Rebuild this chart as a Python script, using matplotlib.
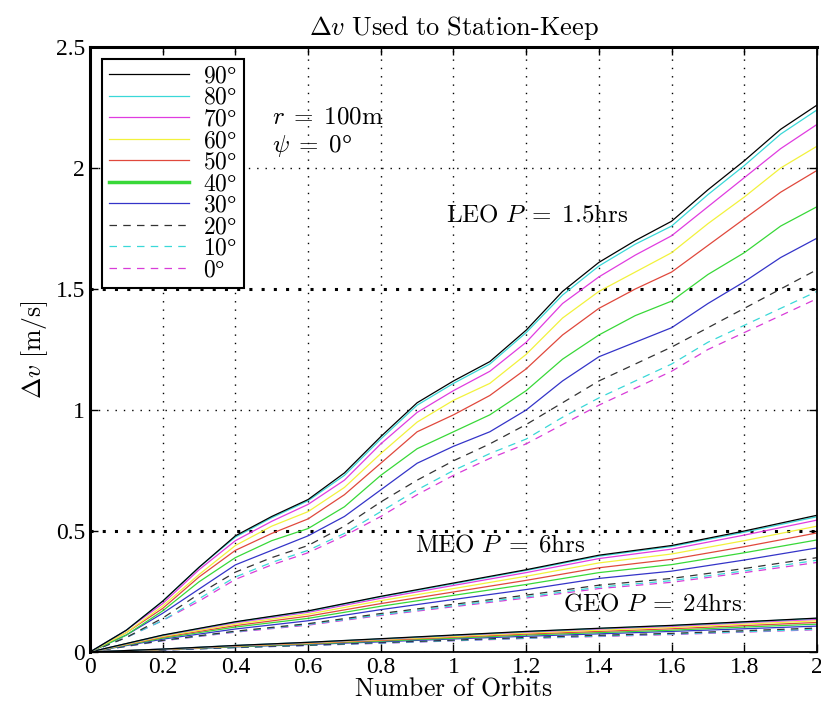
import matplotlib.pyplot as plt
import numpy as np

plt.rcParams['font.family'] = ['Liberation Serif', 'DejaVu Serif']
plt.rcParams['mathtext.fontset'] = 'cm'

angles = ['$90$°', '$80$°', '$70$°', '$60$°', '$50$°',
          '$40$°', '$30$°', '$20$°', '$10$°', '$0$°']
colors = ['#000000', '#3ad8d8', '#e03ce0', '#f2f23c', '#e0483c',
          '#38d838', '#3434c8', '#333333', '#3ad8d8', '#d83cd8']
styles = ['-'] * 7 + [(0, (6, 5))] * 3

# LEO (P = 1.5 hrs), sampled every 0.1 orbit
x_leo = [0.0, 0.1, 0.2, 0.3, 0.4, 0.5, 0.6, 0.7, 0.8, 0.9, 1.0,
         1.1, 1.2, 1.3, 1.4, 1.5, 1.6, 1.7, 1.8, 1.9, 2.0]
leo_90 = [0, 0.09, 0.21, 0.35, 0.48, 0.56, 0.63, 0.74, 0.89, 1.03, 1.12, 1.20, 1.33, 1.49, 1.61, 1.70, 1.78, 1.91, 2.03, 2.16, 2.26]
leo_80 = [0, 0.09, 0.21, 0.35, 0.475, 0.555, 0.625, 0.73, 0.88, 1.02, 1.11, 1.19, 1.32, 1.475, 1.595, 1.685, 1.76, 1.89, 2.01, 2.14, 2.24]
leo_70 = [0, 0.09, 0.20, 0.34, 0.46, 0.54, 0.61, 0.71, 0.86, 0.99, 1.08, 1.16, 1.28, 1.44, 1.55, 1.64, 1.72, 1.84, 1.96, 2.08, 2.18]
leo_60 = [0, 0.08, 0.19, 0.32, 0.44, 0.52, 0.58, 0.68, 0.82, 0.95, 1.04, 1.11, 1.23, 1.38, 1.49, 1.57, 1.65, 1.77, 1.88, 2.00, 2.09]
leo_50 = [0, 0.08, 0.18, 0.31, 0.42, 0.49, 0.55, 0.65, 0.78, 0.91, 0.98, 1.06, 1.17, 1.31, 1.42, 1.50, 1.57, 1.68, 1.79, 1.90, 1.99]
leo_40 = [0, 0.07, 0.17, 0.29, 0.39, 0.46, 0.51, 0.60, 0.73, 0.84, 0.91, 0.98, 1.08, 1.21, 1.31, 1.39, 1.45, 1.56, 1.65, 1.76, 1.84]
leo_30 = [0, 0.07, 0.16, 0.26, 0.36, 0.42, 0.48, 0.56, 0.67, 0.78, 0.85, 0.91, 1.00, 1.12, 1.22, 1.28, 1.34, 1.44, 1.53, 1.63, 1.71]
leo_20 = [0, 0.06, 0.14, 0.24, 0.33, 0.39, 0.44, 0.52, 0.62, 0.71, 0.79, 0.86, 0.94, 1.03, 1.12, 1.19, 1.26, 1.34, 1.42, 1.50, 1.58]
leo_10 = [0, 0.06, 0.13, 0.22, 0.31, 0.37, 0.42, 0.49, 0.58, 0.67, 0.75, 0.82, 0.88, 0.97, 1.05, 1.12, 1.19, 1.28, 1.35, 1.42, 1.49]
leo_0 = [0, 0.06, 0.13, 0.21, 0.30, 0.36, 0.41, 0.48, 0.56, 0.65, 0.73, 0.80, 0.86, 0.94, 1.02, 1.09, 1.16, 1.25, 1.32, 1.39, 1.46]

# MEO (P = 6 hrs) and GEO (P = 24 hrs), sampled every 0.2 orbit
x_slow = [0.0, 0.2, 0.4, 0.6, 0.8, 1.0, 1.2, 1.4, 1.6, 1.8, 2.0]
meo_90 = [0, 0.070, 0.125, 0.170, 0.230, 0.285, 0.340, 0.400, 0.440, 0.500, 0.565]
meo_80 = [0, 0.069, 0.124, 0.168, 0.228, 0.282, 0.337, 0.396, 0.436, 0.495, 0.559]
meo_70 = [0, 0.068, 0.121, 0.164, 0.222, 0.275, 0.328, 0.386, 0.425, 0.483, 0.545]
meo_60 = [0, 0.064, 0.115, 0.156, 0.212, 0.262, 0.313, 0.368, 0.405, 0.460, 0.520]
meo_50 = [0, 0.061, 0.109, 0.148, 0.200, 0.248, 0.296, 0.348, 0.383, 0.435, 0.492]
meo_40 = [0, 0.057, 0.103, 0.139, 0.189, 0.234, 0.279, 0.328, 0.361, 0.410, 0.463]
meo_30 = [0, 0.053, 0.095, 0.129, 0.175, 0.217, 0.258, 0.304, 0.334, 0.380, 0.430]
meo_20 = [0, 0.048, 0.086, 0.117, 0.159, 0.197, 0.235, 0.276, 0.304, 0.345, 0.390]
meo_10 = [0, 0.047, 0.084, 0.114, 0.154, 0.191, 0.228, 0.268, 0.295, 0.335, 0.379]
meo_0 = [0, 0.046, 0.082, 0.111, 0.151, 0.187, 0.223, 0.262, 0.288, 0.328, 0.370]

geo_90 = [0, 0.012, 0.027, 0.040, 0.055, 0.070, 0.085, 0.098, 0.110, 0.125, 0.140]
geo_80 = [0, 0.012, 0.027, 0.040, 0.054, 0.069, 0.084, 0.097, 0.109, 0.124, 0.139]
geo_70 = [0, 0.012, 0.026, 0.039, 0.053, 0.068, 0.082, 0.095, 0.106, 0.121, 0.135]
geo_60 = [0, 0.011, 0.025, 0.037, 0.051, 0.064, 0.078, 0.090, 0.101, 0.115, 0.129]
geo_50 = [0, 0.010, 0.024, 0.035, 0.048, 0.061, 0.074, 0.085, 0.096, 0.109, 0.122]
geo_40 = [0, 0.010, 0.022, 0.033, 0.045, 0.057, 0.070, 0.080, 0.090, 0.103, 0.115]
geo_30 = [0, 0.009, 0.021, 0.031, 0.042, 0.054, 0.065, 0.075, 0.085, 0.096, 0.107]
geo_20 = [0, 0.008, 0.019, 0.028, 0.039, 0.049, 0.060, 0.069, 0.077, 0.088, 0.099]
geo_10 = [0, 0.008, 0.018, 0.027, 0.037, 0.047, 0.057, 0.066, 0.074, 0.084, 0.094]
geo_0 = [0, 0.008, 0.018, 0.027, 0.036, 0.046, 0.056, 0.064, 0.072, 0.082, 0.092]

leo = [leo_90, leo_80, leo_70, leo_60, leo_50, leo_40, leo_30, leo_20, leo_10, leo_0]
meo = [meo_90, meo_80, meo_70, meo_60, meo_50, meo_40, meo_30, meo_20, meo_10, meo_0]
geo = [geo_90, geo_80, geo_70, geo_60, geo_50, geo_40, geo_30, geo_20, geo_10, geo_0]

fig = plt.figure(figsize=(8.21, 7.19), dpi=100)
ax = fig.add_axes([0.1096, 0.0932, 0.8855, 0.8414])

# draw lowest angle first so the 90 deg line ends up on top
for i in reversed(range(10)):
    ax.plot(x_slow, geo[i], color=colors[i], linestyle=styles[i], lw=0.9)
    ax.plot(x_slow, meo[i], color=colors[i], linestyle=styles[i], lw=0.9)
handles = [None] * 10
for i in reversed(range(10)):
    handles[i], = ax.plot(x_leo, leo[i], color=colors[i], linestyle=styles[i], lw=0.9, label=angles[i])

ax.set_xlim(0, 2)
ax.set_ylim(0, 2.5)
ax.set_xticks(np.arange(0, 2.01, 0.2))
ax.set_xticklabels(['0', '0.2', '0.4', '0.6', '0.8', '1', '1.2', '1.4', '1.6', '1.8', '2'])
ax.set_yticks([0, 0.5, 1, 1.5, 2, 2.5])
ax.set_yticklabels(['0', '0.5', '1', '1.5', '2', '2.5'])
ax.tick_params(direction='in', top=True, right=True, labelsize=17, length=6, width=1)
ax.grid(True, color='black', linestyle=(0, (1, 5)), linewidth=1.0)
for j, gl in enumerate(ax.yaxis.get_gridlines()):
    if j in (1, 3):
        gl.set_linewidth(2.2)
        gl.set_linestyle((0, (1, 3)))

for side in ['top', 'left']:
    ax.spines[side].set_linewidth(2.2)
for side in ['bottom', 'right']:
    ax.spines[side].set_linewidth(1.3)

ax.set_title(r'$\Delta v\ \mathrm{Used\ to\ Station\text{-}Keep}$', fontsize=19, pad=9)
ax.set_xlabel(r'$\mathrm{Number\ of\ Orbits}$', fontsize=18.5, labelpad=0)
ax.set_ylabel(r'$\Delta v\ [\mathrm{m/s}]$', fontsize=18.5, labelpad=4)

ax.text(0.50, 2.21, r'$r\;=\;100\mathrm{m}$', fontsize=18, va='center')
ax.text(0.50, 2.09, r'$\psi\;=\;0$°', fontsize=18, va='center')
ax.text(0.98, 1.805, r'$\mathrm{LEO}\ P\;=\;1.5\mathrm{hrs}$', fontsize=18, va='center')
ax.text(0.895, 0.44, r'$\mathrm{MEO}\ P\;=\;6\mathrm{hrs}$', fontsize=18, va='center')
ax.text(1.30, 0.195, r'$\mathrm{GEO}\ P\;=\;24\mathrm{hrs}$', fontsize=18, va='center')

leg = ax.legend(handles=handles, loc='upper left', fontsize=17, handlelength=3.4,
                labelspacing=0.0, borderaxespad=0.5, handletextpad=0.6,
                fancybox=False, framealpha=1, borderpad=0.3)
leg.get_frame().set_edgecolor('black')
leg.get_frame().set_linewidth(1.5)
leg.get_lines()[5].set_linewidth(2.5)

fig.savefig('out.png', dpi=100)
